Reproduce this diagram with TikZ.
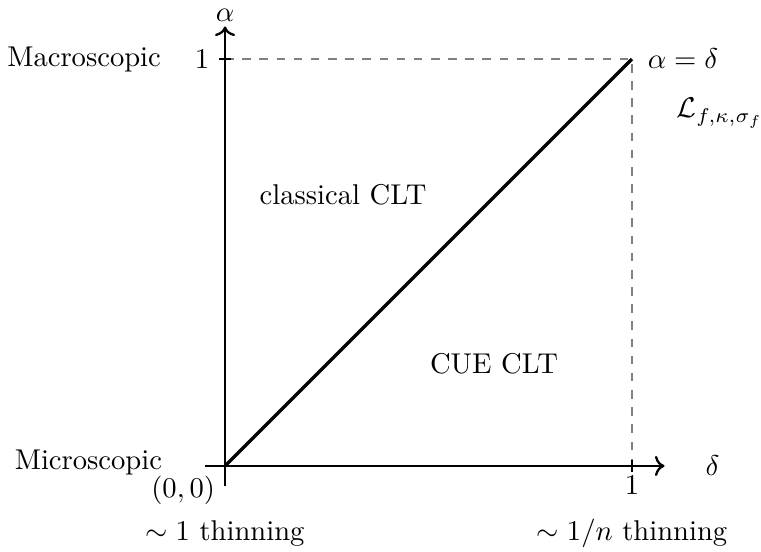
\documentclass[tikz,border=0pt]{standalone}
\usepackage{amsmath,amssymb,amsfonts}
\usepackage{tikz}
\usetikzlibrary{arrows.meta, positioning}
\tikzset{
  axisline/.style={->, thick},
  guide/.style={dashed, gray, thin},
  tickmark/.style={thin},
  diag/.style={very thick},
}
\begin{document}
\begin{tikzpicture}[x=5cm, y=5cm]
    \useasboundingbox (-0.553,-0.211) rectangle (1.317,1.145);
    \coordinate (O) at (0,0);
    \coordinate (xstart) at (-0.05,0);
    \coordinate (xend) at (1.08,0);
    \coordinate (ystart) at (0,-0.05);
    \coordinate (yend) at (0,1.08);
    \coordinate (X1) at (1,0);
    \coordinate (Y1) at (0,1);
    \coordinate (P) at (1,1);
    % guides and axes
    \draw[guide] (Y1) -- (P) -- (X1);
    \draw[axisline] (xstart) -- (xend);
    \draw[axisline] (ystart) -- (yend);
    \draw[tickmark] ([xshift=-2pt]Y1) -- ([xshift=2pt]Y1);
    \draw[tickmark] ([yshift=-2pt]X1) -- ([yshift=2pt]X1);
    \draw[diag] (O) -- (P);
    % labels
    \node[above, inner sep=1.5pt] (alpha) at (yend) {$\alpha$};
    \node[right=0.38cm of xend] (delta) {$\delta$};
    \node[left=2pt of Y1] (ylab) {$1$};
    \node[left=0.17cm of ylab] (macro) {Macroscopic};
    \node[anchor=east] (micro) at (-0.13,0.008) {Microscopic};
    \node[below left] (orig) at (O) {$(0,0)$};
    \node[below] (xlab) at (X1) {$1$};
    \node (thinone) at (0,-0.165) {$\sim 1$ thinning};
    \node (thinn) at (1,-0.165) {$\sim 1/n$ thinning};
    \node[right=2pt of P] (eq) {$\alpha=\delta$};
    \node (lagr) at (1.216,0.867) {$\mathcal{L}_{f,\kappa,\sigma_f}$};
    \node (classic) at (0.29,0.667) {classical CLT};
    \node (cue) at (0.661,0.25) {CUE CLT};
\end{tikzpicture}
\end{document}
